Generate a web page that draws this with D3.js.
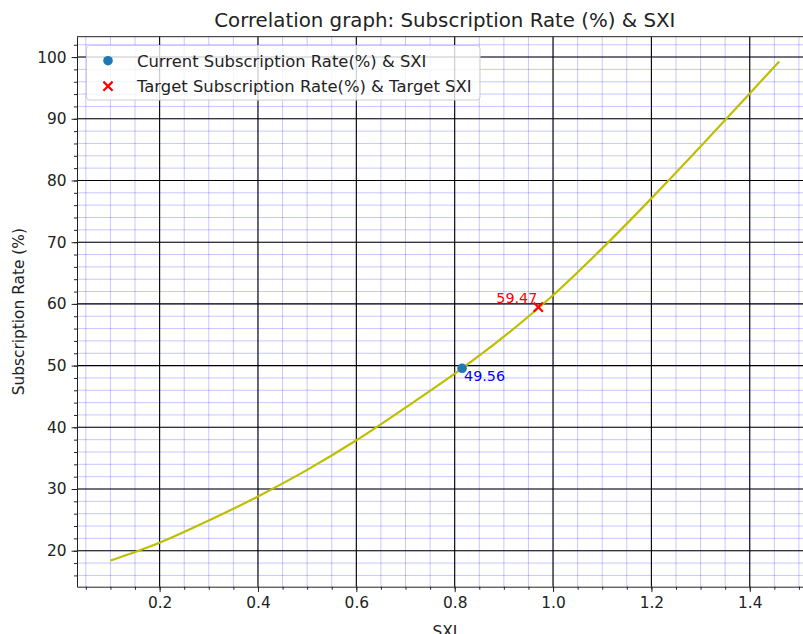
<!DOCTYPE html>
<html>
<head>
<meta charset="utf-8">
<script src="https://cdn.jsdelivr.net/npm/d3@7"></script>
<style>
  body { margin: 0; background: #fff; }
  svg { display: block; font-family: "DejaVu Sans", sans-serif; }
</style>
</head>
<body>
<script>
// values
var sxiValues  = [0.10, 0.15, 0.20, 0.30, 0.40, 0.50, 0.60, 0.70, 0.80, 0.90, 1.00, 1.10, 1.20, 1.30, 1.40, 1.46];
var rateValues = [18.4, 19.8, 21.3, 24.9, 28.8, 33.1, 37.9, 43.2, 48.7, 54.7, 61.4, 69.0, 77.1, 85.5, 94.1, 99.3];
var currentPoint = {sxi: 0.815, rate: 49.56};
var targetPoint  = {sxi: 0.97,  rate: 59.47};
var xTicks = [0.2, 0.4, 0.6, 0.8, 1.0, 1.2, 1.4];
var yTicks = [20, 30, 40, 50, 60, 70, 80, 90, 100];
var legendLabels = ["Current Subscription Rate(%) & SXI", "Target Subscription Rate(%) & Target SXI"];

var W = 803, H = 634;
var plotLeft = 77, plotTop = 36.7, plotRight = 812.7, plotBottom = 586.7;
var FONT = '"DejaVu Sans", sans-serif';

var svg = d3.select('body').append('svg')
    .attr('width', W)
    .attr('height', H);

var x = d3.scaleLinear().domain([0.032, 1.528]).range([plotLeft, plotRight]);
var y = d3.scaleLinear().domain([14.17, 103.3]).range([plotBottom, plotTop]);

var xMinor = d3.range(1, 31).map(function (i) { return i * 0.05; }).filter(function (d) { return d > 0.032 && d < 1.528; });
var yMinor = d3.range(8, 52).map(function (i) { return i * 2; });

var grid = svg.append('g');
// minor grid
grid.selectAll('.vmin').data(xMinor).enter().append('line')
    .attr('x1', function (d) { return x(d); }).attr('x2', function (d) { return x(d); })
    .attr('y1', plotTop).attr('y2', plotBottom)
    .attr('stroke', 'blue').attr('stroke-opacity', 0.22).attr('stroke-width', 1);
grid.selectAll('.hmin').data(yMinor).enter().append('line')
    .attr('y1', function (d) { return y(d); }).attr('y2', function (d) { return y(d); })
    .attr('x1', plotLeft).attr('x2', plotRight)
    .attr('stroke', 'blue').attr('stroke-opacity', 0.22).attr('stroke-width', 1);
// major grid
grid.selectAll('.vmaj').data(xTicks).enter().append('line')
    .attr('x1', function (d) { return x(d); }).attr('x2', function (d) { return x(d); })
    .attr('y1', plotTop).attr('y2', plotBottom)
    .attr('stroke', '#000').attr('stroke-width', 1.1);
grid.selectAll('.hmaj').data(yTicks).enter().append('line')
    .attr('y1', function (d) { return y(d); }).attr('y2', function (d) { return y(d); })
    .attr('x1', plotLeft).attr('x2', plotRight)
    .attr('stroke', '#000').attr('stroke-width', 1.1);

// curve
var line = d3.line()
    .x(function (d, i) { return x(sxiValues[i]); })
    .y(function (d) { return y(d); })
    .curve(d3.curveMonotoneX);
svg.append('path')
    .datum(rateValues)
    .attr('d', line)
    .attr('fill', 'none')
    .attr('stroke', '#bfbf00')
    .attr('stroke-width', 2.2);

function drawX(g, cx, cy, s) {
    g.append('path')
        .attr('d', 'M' + (cx - s) + ',' + (cy - s) + 'L' + (cx + s) + ',' + (cy + s) +
                   'M' + (cx - s) + ',' + (cy + s) + 'L' + (cx + s) + ',' + (cy - s))
        .attr('stroke', 'red').attr('stroke-width', 2.2).attr('fill', 'none');
}

// markers
svg.append('circle')
    .attr('cx', x(currentPoint.sxi)).attr('cy', y(currentPoint.rate))
    .attr('r', 4.8).attr('fill', '#1f77b4');
drawX(svg, x(targetPoint.sxi), y(targetPoint.rate), 4.6);

svg.append('text')
    .attr('x', x(currentPoint.sxi) + 2).attr('y', y(currentPoint.rate) + 13)
    .attr('fill', 'blue').attr('font-size', '14.3px')
    .text(currentPoint.rate.toFixed(2));
svg.append('text')
    .attr('x', x(targetPoint.sxi) - 1).attr('y', y(targetPoint.rate) - 4)
    .attr('text-anchor', 'end')
    .attr('fill', 'red').attr('font-size', '14.3px')
    .text(targetPoint.rate.toFixed(2));

// axes
svg.append('g').attr('transform', 'translate(0,' + plotBottom + ')')
    .call(d3.axisBottom(x).tickValues(xTicks).tickFormat(d3.format('.1f')).tickSize(5.4).tickSizeOuter(0).tickPadding(5));
svg.append('g').attr('transform', 'translate(0,' + plotBottom + ')')
    .call(d3.axisBottom(x).tickValues(xMinor).tickFormat('').tickSize(3).tickSizeOuter(0))
    .select('.domain').remove();
svg.append('g').attr('transform', 'translate(' + plotLeft + ',0)')
    .call(d3.axisLeft(y).tickValues(yTicks).tickSize(5.4).tickSizeOuter(0).tickPadding(5));
svg.append('g').attr('transform', 'translate(' + plotLeft + ',0)')
    .call(d3.axisLeft(y).tickValues(yMinor).tickFormat('').tickSize(3).tickSizeOuter(0))
    .select('.domain').remove();

svg.selectAll('.tick text').attr('font-size', '15.4px').attr('fill', '#222')
    .attr('font-family', FONT);
svg.selectAll('.tick line, .domain').attr('stroke', '#222');

// top spine
svg.append('line').attr('x1', plotLeft).attr('x2', plotRight).attr('y1', plotTop).attr('y2', plotTop)
    .attr('stroke', '#222');

// labels
svg.append('text')
    .attr('x', (plotLeft + plotRight) / 2).attr('y', 27)
    .attr('text-anchor', 'middle').attr('font-size', '19.8px').attr('fill', '#222')
    .text('Correlation graph: Subscription Rate (%) & SXI');
svg.append('text')
    .attr('x', (plotLeft + plotRight) / 2).attr('y', 637)
    .attr('text-anchor', 'middle').attr('font-size', '15.4px').attr('fill', '#222')
    .text('SXI');
svg.append('text')
    .attr('transform', 'translate(24,' + ((plotTop + plotBottom) / 2) + ') rotate(-90)')
    .attr('text-anchor', 'middle').attr('font-size', '15.4px').attr('fill', '#222')
    .text('Subscription Rate (%)');

// legend
var legend = svg.append('g');
legend.append('rect')
    .attr('x', 86.5).attr('y', 45.5).attr('width', 393.5).attr('height', 54.5)
    .attr('rx', 3).attr('fill', 'white').attr('fill-opacity', 0.8)
    .attr('stroke', '#ccc').attr('stroke-width', 1);
legend.append('circle').attr('cx', 108).attr('cy', 60.7).attr('r', 4.8).attr('fill', '#1f77b4');
drawX(legend, 108, 86.2, 4.6);
legendLabels.forEach(function (t, i) {
    legend.append('text')
        .attr('x', 137).attr('y', 66.6 + i * 25.5)
        .attr('font-size', '16.4px').attr('fill', '#222')
        .text(t);
});
</script>
</body>
</html>
